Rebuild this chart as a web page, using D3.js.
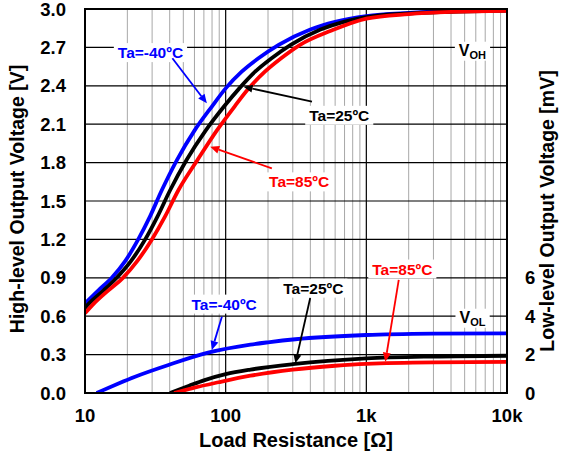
<!DOCTYPE html>
<html>
<head>
<meta charset="utf-8">
<script src="https://cdn.jsdelivr.net/npm/d3@7"></script>
<style>
  body { margin: 0; background: #fff; }
  text { font-family: "Liberation Sans", Arial, sans-serif; font-weight: bold; }
</style>
</head>
<body>
<div id="chart"></div>
<script>
// load resistance [ohm] and high level output voltage [V]
const ohBlueR = [10, 12.4, 15.5, 19.3, 23.9, 29, 35, 45, 60, 80, 100, 130, 171, 238, 400, 600, 1000, 2000, 4000, 10000];
const ohBlueV = [0.70, 0.80, 0.90, 1.03, 1.20, 1.38, 1.58, 1.82, 2.05, 2.24, 2.38, 2.51, 2.615, 2.72, 2.84, 2.90, 2.945, 2.97, 2.983, 2.99];
const ohBlackR = [10, 10.7, 13.5, 16.8, 21.2, 26.8, 32.8, 40.1, 52.7, 72, 97.6, 125, 162, 212, 290, 472, 690, 1120, 2200, 4500, 10000];
const ohBlackV = [0.665, 0.70, 0.80, 0.90, 1.03, 1.20, 1.38, 1.58, 1.82, 2.05, 2.24, 2.38, 2.51, 2.615, 2.72, 2.84, 2.90, 2.945, 2.968, 2.98, 2.988];
const ohRedR = [10, 11.6, 14.6, 18.6, 23.5, 29.9, 37.1, 45.9, 63, 86.4, 116, 146, 190, 248, 338, 560, 1000, 2000, 4000, 10000];
const ohRedV = [0.623, 0.70, 0.80, 0.90, 1.03, 1.20, 1.38, 1.58, 1.82, 2.05, 2.24, 2.38, 2.51, 2.615, 2.72, 2.83, 2.925, 2.96, 2.977, 2.985];

// low level output voltage, in mV (right axis)
const olBlueR = [12.1, 22.7, 39.2, 75, 150, 200, 313, 1000, 3000, 10000];
const olBlueMv = [0, 0.85, 1.46, 2.1, 2.52, 2.64, 2.80, 3.02, 3.09, 3.11];
const olBlackR = [40.2, 55, 70, 100, 150, 300, 1000, 3000, 10000];
const olBlackMv = [0, 0.38, 0.66, 0.98, 1.22, 1.50, 1.80, 1.90, 1.94];
const olRedR = [43, 60, 89, 150, 300, 600, 1000, 3000, 10000];
const olRedMv = [0, 0.28, 0.56, 0.90, 1.22, 1.42, 1.52, 1.60, 1.62];

const xTicks = [10, 100, 1000, 10000];
const xTickLabels = ['10', '100', '1k', '10k'];
const yTicks = [0, 0.3, 0.6, 0.9, 1.2, 1.5, 1.8, 2.1, 2.4, 2.7, 3.0];
const yRightTicks = [0, 2, 4, 6];

// annotations: label centre (r, v), arrow from -> to, in R / V units
const notes = [
  { t: 'Ta=-40ºC', c: '#0000ff', r: 29.2, v: 2.66, fr: 41.8, fv: 2.615, tr: 73.5, tv: 2.263 },
  { t: 'Ta=25ºC', c: '#000000', r: 642, v: 2.17, fr: 411, fv: 2.276, tr: 134, tv: 2.393 },
  { t: 'Ta=85ºC', c: '#ff0000', r: 333, v: 1.65, fr: 213, fv: 1.755, tr: 77.6, tv: 1.924 },
  { t: 'Ta=-40ºC', c: '#0000ff', r: 97.5, v: 0.695, fr: 94, fv: 0.596, tr: 79.8, tv: 0.336 },
  { t: 'Ta=25ºC', c: '#000000', r: 420, v: 0.82, fr: 399, fv: 0.742, tr: 313, tv: 0.232 },
  { t: 'Ta=85ºC', c: '#ff0000', r: 1803, v: 0.969, fr: 1700, fv: 0.883, tr: 1365, tv: 0.245 }
];

const W = 570, H = 461;
const m = { top: 9, right: 63, bottom: 68, left: 85 };
const w = W - m.left - m.right, h = H - m.top - m.bottom;

const svg = d3.select('#chart').append('svg')
  .attr('width', W).attr('height', H);
const g = svg.append('g').attr('transform', `translate(${m.left},${m.top})`);

const x = d3.scaleLog().domain([10, 10000]).range([0, w]);
const y = d3.scaleLinear().domain([0, 3]).range([h, 0]);
const yR = d3.scaleLinear().domain([0, 20]).range([h, 0]);

// minor grid
const minors = [];
[10, 100, 1000].forEach(dec => { for (let k = 2; k <= 9; k++) minors.push(dec * k); });
g.selectAll('.minor').data(minors).enter().append('line')
  .attr('x1', d => x(d)).attr('x2', d => x(d))
  .attr('y1', 0).attr('y2', h)
  .attr('stroke', '#a8a8a8').attr('stroke-width', 1);

// major grid
g.selectAll('.vmaj').data(xTicks).enter().append('line')
  .attr('x1', d => x(d)).attr('x2', d => x(d))
  .attr('y1', 0).attr('y2', h)
  .attr('stroke', '#000').attr('stroke-width', 1.2);
g.selectAll('.hmaj').data(yTicks).enter().append('line')
  .attr('x1', 0).attr('x2', w)
  .attr('y1', d => y(d)).attr('y2', d => y(d))
  .attr('stroke', '#000').attr('stroke-width', 1.2);

// white boxes behind labels
const boxLayer = g.append('g');

g.append('clipPath').attr('id', 'clip').append('rect')
  .attr('width', w).attr('height', h);

const curves = g.append('g').attr('clip-path', 'url(#clip)');
const lineV = d3.line().x(d => x(d[0])).y(d => y(d[1])).curve(d3.curveMonotoneX);
const lineMv = d3.line().x(d => x(d[0])).y(d => yR(d[1])).curve(d3.curveMonotoneX);

const zip = (a, b) => a.map((d, i) => [d, b[i]]);

[[ohBlueR, ohBlueV, '#0000ff'], [ohBlackR, ohBlackV, '#000'], [ohRedR, ohRedV, '#ff0000']]
  .forEach(s => curves.append('path')
    .attr('d', lineV(zip(s[0], s[1])))
    .attr('fill', 'none').attr('stroke', s[2]).attr('stroke-width', 3.8));
[[olBlueR, olBlueMv, '#0000ff'], [olBlackR, olBlackMv, '#000'], [olRedR, olRedMv, '#ff0000']]
  .forEach(s => curves.append('path')
    .attr('d', lineMv(zip(s[0], s[1])))
    .attr('fill', 'none').attr('stroke', s[2]).attr('stroke-width', 3.8));

// frame
g.append('rect').attr('width', w).attr('height', h)
  .attr('fill', 'none').attr('stroke', '#000').attr('stroke-width', 2);

// annotations
notes.forEach(n => {
  const t = g.append('text')
    .attr('x', x(n.r)).attr('y', y(n.v))
    .attr('dy', '0.36em')
    .attr('text-anchor', 'middle')
    .attr('font-size', 15.5)
    .attr('fill', n.c)
    .text(n.t);
  const bb = t.node().getBBox();
  boxLayer.append('rect')
    .attr('x', bb.x - 4).attr('y', bb.y - 1)
    .attr('width', bb.width + 8).attr('height', bb.height + 2)
    .attr('fill', '#fff');

  const x1 = x(n.fr), y1 = y(n.fv), x2 = x(n.tr), y2 = y(n.tv);
  const ang = Math.atan2(y2 - y1, x2 - x1);
  const L = 9, hw = 4;
  const bx = x2 - L * Math.cos(ang), by = y2 - L * Math.sin(ang);
  g.append('line')
    .attr('x1', x1).attr('y1', y1).attr('x2', bx).attr('y2', by)
    .attr('stroke', n.c).attr('stroke-width', 1.8);
  g.append('path')
    .attr('d', `M${x2},${y2}L${bx + hw * Math.sin(ang)},${by - hw * Math.cos(ang)}L${bx - hw * Math.sin(ang)},${by + hw * Math.cos(ang)}Z`)
    .attr('fill', n.c);
});

// V_OH / V_OL tags
[['OH', 2.68], ['OL', 0.594]].forEach(p => {
  const t = g.append('text')
    .attr('x', x(5680)).attr('y', y(p[1]))
    .attr('dy', '0.36em')
    .attr('text-anchor', 'middle')
    .attr('font-size', 16);
  t.append('tspan').text('V');
  t.append('tspan').attr('font-size', 11).attr('dy', 3).text(p[0]);
  const bb = t.node().getBBox();
  boxLayer.append('rect')
    .attr('x', bb.x - 4).attr('y', bb.y)
    .attr('width', bb.width + 8).attr('height', bb.height)
    .attr('fill', '#fff');
});

// tick labels
g.selectAll('.xl').data(xTicks).enter().append('text')
  .attr('x', d => x(d)).attr('y', h + 29)
  .attr('text-anchor', 'middle').attr('font-size', 18.5)
  .text((d, i) => xTickLabels[i]);
g.selectAll('.yl').data(yTicks).enter().append('text')
  .attr('x', -19).attr('y', d => y(d)).attr('dy', '0.36em')
  .attr('text-anchor', 'end').attr('font-size', 18.5)
  .text(d => d.toFixed(1));
g.selectAll('.yr').data(yRightTicks).enter().append('text')
  .attr('x', w + 18).attr('y', d => yR(d)).attr('dy', '0.36em')
  .attr('text-anchor', 'start').attr('font-size', 18.5)
  .text(d => d);

// axis titles
svg.append('text')
  .attr('x', m.left + w / 2).attr('y', 447)
  .attr('text-anchor', 'middle').attr('font-size', 20)
  .text('Load Resistance [Ω]');
svg.append('text')
  .attr('transform', `translate(24,${m.top + h / 2 - 2}) rotate(-90)`)
  .attr('text-anchor', 'middle').attr('font-size', 19.5)
  .text('High-level Output Voltage [V]');
svg.append('text')
  .attr('transform', `translate(554,${m.top + h / 2 + 10}) rotate(-90)`)
  .attr('text-anchor', 'middle').attr('font-size', 19.5)
  .text('Low-level Output Voltage [mV]');
</script>
</body>
</html>
